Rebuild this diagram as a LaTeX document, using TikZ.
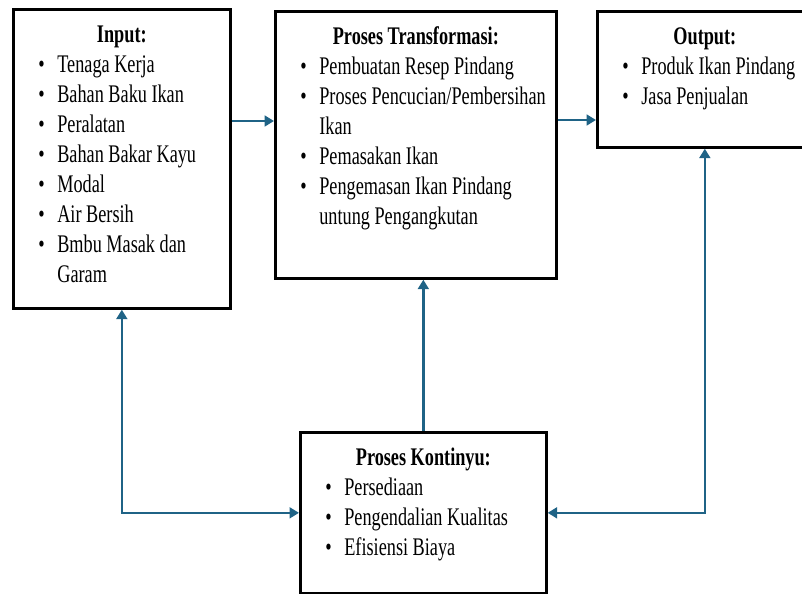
\documentclass[tikz,border=0pt]{standalone}
\usepackage{fontspec}
\setmainfont{Liberation Serif}[FakeStretch=0.72]
\usetikzlibrary{arrows.meta,calc}
\definecolor{flowblue}{RGB}{31,99,134}
\newcommand{\itm}[1]{\par\noindent\hspace*{18.75pt}\makebox[14.25pt][l]{\textbullet}#1}
\newcommand{\cont}[1]{\par\noindent\hspace*{33pt}#1}
\newcommand{\stagetext}[4]{\parbox[c][#2][t]{#1}{{\centering\rule{0pt}{24.75pt}\textbf{#3}\par}#4}}

\begin{document}
\begin{tikzpicture}[x=0.75pt, y=-0.75pt,
  stage/.style={draw, line width=2pt, anchor=north west, inner sep=0pt, font=\fontsize{19}{22.5}\selectfont},
  link/.style={draw=flowblue, line width=2pt},
  >={Triangle[length=7pt,width=8pt]}
]
\useasboundingbox (0,0) rectangle (802,593);
\clip (0,0) rectangle (802,593);

\node[stage] (input) at (12,8) {\stagetext{162.75pt}{224.25pt}{Input:}{%
  \itm{Tenaga Kerja}\itm{Bahan Baku Ikan}\itm{Peralatan}\itm{Bahan Bakar Kayu}%
  \itm{Modal}\itm{Air Bersih}\itm{Bmbu Masak dan}\cont{Garam}}};
\node[stage] (trans) at (274,10) {\stagetext{210.75pt}{200.25pt}{Proses Transformasi:}{%
  \itm{Pembuatan Resep Pindang}\itm{Proses Pencucian/Pembersihan}\cont{Ikan}%
  \itm{Pemasakan Ikan}\itm{Pengemasan Ikan Pindang}\cont{untung Pengangkutan}}};
\node[stage] (output) at (596,10) {\stagetext{161.25pt}{102pt}{Output:}{%
  \itm{Produk Ikan Pindang}\itm{Jasa Penjualan}}};
\node[stage] (kont) at (299,431) {\stagetext{184.5pt}{120.75pt}{Proses Kontinyu:}{%
  \itm{Persediaan}\itm{Pengendalian Kualitas}\itm{Efisiensi Biaya}}};

\coordinate (in2tr) at ($(input.north east)+(0,113)$);
\coordinate (tr2out) at ($(trans.north east)+(0,110)$);
\draw[link,->] (in2tr) -- (in2tr -| trans.west);
\draw[link,->] (tr2out) -- (tr2out -| output.west);
\draw[link,<->] (input.south) |- (kont.west);
\draw[link,->] (kont.north) -- (kont.north |- trans.south);
\draw[link,<->] (output.south) |- (kont.east);
\end{tikzpicture}
\end{document}
